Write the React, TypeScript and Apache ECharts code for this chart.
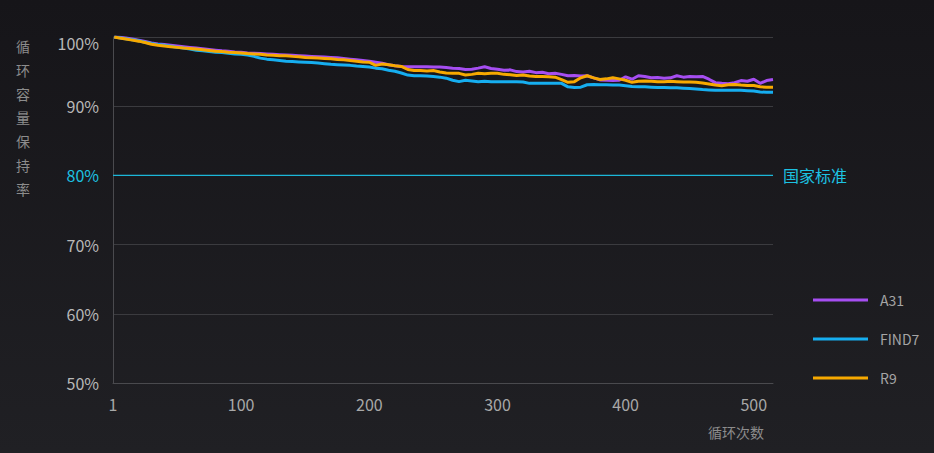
import React, { useEffect, useRef } from "react";
import * as echarts from "echarts";

const CYCLES = [1, 5, 10, 15, 20, 25, 30, 35, 40, 45, 50, 55, 60, 65, 70, 75, 80, 85, 90, 95, 100, 105, 110, 115, 120, 125, 130, 135, 140, 145, 150, 155, 160, 165, 170, 175, 180, 185, 190, 195, 200, 205, 210, 215, 220, 225, 230, 235, 240, 245, 250, 255, 260, 265, 270, 275, 280, 285, 290, 295, 300, 305, 310, 315, 320, 325, 330, 335, 340, 345, 350, 355, 360, 365, 370, 375, 380, 385, 390, 395, 400, 405, 410, 415, 420, 425, 430, 435, 440, 445, 450, 455, 460, 465, 470, 475, 480, 485, 490, 495, 500, 505, 510, 515];

const A31 = [100.0, 99.95, 99.85, 99.7, 99.55, 99.35, 99.15, 99.0, 98.9, 98.8, 98.7, 98.6, 98.5, 98.4, 98.3, 98.2, 98.1, 98.0, 97.95, 97.85, 97.8, 97.7, 97.65, 97.6, 97.55, 97.5, 97.45, 97.4, 97.35, 97.3, 97.25, 97.2, 97.15, 97.1, 97.05, 97.0, 96.9, 96.8, 96.7, 96.6, 96.5, 96.35, 96.2, 96.0, 95.85, 95.75, 95.7, 95.7, 95.7, 95.7, 95.65, 95.65, 95.6, 95.5, 95.45, 95.3, 95.35, 95.5, 95.7, 95.45, 95.35, 95.2, 95.25, 95.0, 94.95, 95.05, 94.85, 94.9, 94.7, 94.75, 94.6, 94.4, 94.45, 94.35, 94.4, 94.1, 93.8, 93.75, 93.7, 93.75, 94.25, 93.9, 94.4, 94.3, 94.1, 94.15, 94.05, 94.1, 94.4, 94.2, 94.3, 94.25, 94.3, 93.9, 93.4, 93.3, 93.25, 93.4, 93.7, 93.6, 93.9, 93.3, 93.7, 93.85];

const FIND7 = [100.0, 99.9, 99.75, 99.6, 99.45, 99.25, 99.05, 98.9, 98.8, 98.65, 98.5, 98.4, 98.25, 98.1, 98.0, 97.9, 97.8, 97.75, 97.65, 97.55, 97.5, 97.4, 97.2, 96.95, 96.8, 96.7, 96.6, 96.5, 96.45, 96.4, 96.35, 96.3, 96.25, 96.15, 96.05, 96.0, 95.95, 95.9, 95.8, 95.75, 95.65, 95.5, 95.4, 95.2, 95.05, 94.8, 94.5, 94.4, 94.4, 94.35, 94.3, 94.2, 94.05, 93.75, 93.55, 93.75, 93.65, 93.55, 93.6, 93.55, 93.55, 93.55, 93.55, 93.55, 93.5, 93.3, 93.3, 93.3, 93.3, 93.3, 93.3, 92.8, 92.7, 92.75, 93.1, 93.15, 93.1, 93.1, 93.05, 93.05, 92.95, 92.85, 92.8, 92.8, 92.75, 92.7, 92.7, 92.65, 92.65, 92.6, 92.55, 92.5, 92.4, 92.35, 92.3, 92.3, 92.3, 92.3, 92.3, 92.25, 92.2, 92.05, 92.0, 92.0];

const R9 = [100.0, 99.85, 99.7, 99.55, 99.4, 99.2, 98.95, 98.8, 98.7, 98.6, 98.5, 98.4, 98.35, 98.25, 98.15, 98.05, 97.95, 97.9, 97.8, 97.75, 97.7, 97.6, 97.55, 97.5, 97.4, 97.35, 97.3, 97.3, 97.2, 97.15, 97.05, 97.0, 96.95, 96.9, 96.85, 96.75, 96.7, 96.6, 96.5, 96.4, 96.35, 95.9, 96.1, 96.0, 95.85, 95.75, 95.3, 95.15, 95.15, 95.1, 95.15, 94.95, 94.8, 94.75, 94.75, 94.5, 94.6, 94.75, 94.7, 94.75, 94.75, 94.6, 94.55, 94.45, 94.5, 94.35, 94.3, 94.3, 94.25, 94.2, 93.85, 93.45, 93.55, 94.1, 94.4, 94.1, 93.85, 93.95, 94.1, 93.95, 93.75, 93.45, 93.6, 93.65, 93.6, 93.55, 93.55, 93.6, 93.55, 93.5, 93.5, 93.45, 93.35, 93.2, 93.05, 92.95, 93.1, 93.15, 93.05, 93.0, 93.0, 92.8, 92.75, 92.75];

const SERIES_NAMES = ["A31", "FIND7", "R9"];
const SERIES_COLORS = ["#a64ef2", "#16aef0", "#f7a900"];
const X_RANGE = [0, 515];
const Y_TICKS = [50, 60, 70, 80, 90, 100];
const STANDARD_VALUE = 80;
const STANDARD_LABEL = "国家标准";
const Y_NAME = "循环容量保持率";
const X_NAME = "循环次数";

const CYAN = "#1dc2e2";
const CYAN_LINE = "#1cb6d8";
const GRID_GRAY = "#3b3b3f";
const LABEL_GRAY = "#b8b8b8";
const FONT = "'Noto Sans CJK SC', 'Noto Sans', sans-serif";

export default function App() {
  const ref = useRef<HTMLDivElement>(null);

  useEffect(() => {
    if (!ref.current) return;
    const chart = echarts.init(ref.current, null, { renderer: "svg" });
    const values = [A31, FIND7, R9];
    const series: any[] = [
      {
        name: STANDARD_LABEL,
        type: "line",
        symbol: "none",
        showSymbol: false,
        silent: true,
        z: 2,
        lineStyle: { width: 1.3, color: CYAN_LINE, type: "solid" },
        itemStyle: { color: CYAN_LINE },
        data: X_RANGE.map((x) => [x, STANDARD_VALUE]),
        endLabel: {
          show: true,
          formatter: STANDARD_LABEL,
          color: CYAN,
          fontSize: 16,
          fontFamily: FONT,
          distance: 10,
        },
      },
      ...SERIES_NAMES.map((name, si) => ({
        name,
        type: "line",
        symbol: "none",
        showSymbol: false,
        lineStyle: { width: 3, color: SERIES_COLORS[si] },
        itemStyle: { color: SERIES_COLORS[si] },
        data: CYCLES.map((c, i) => [c, values[si][i]]),
        z: 3 + si,
      })),
    ];

    chart.setOption({
      animation: false,
      backgroundColor: {
        type: "linear",
        x: 0,
        y: 0,
        x2: 0,
        y2: 1,
        colorStops: [
          { offset: 0, color: "#161519" },
          { offset: 1, color: "#202024" },
        ],
      },
      textStyle: { fontFamily: FONT },
      grid: { left: 113, right: 161, top: 37, bottom: 70, containLabel: false },
      legend: {
        data: SERIES_NAMES.map((n) => ({ name: n, icon: "rect" })),
        orient: "vertical",
        left: 813,
        top: 293,
        padding: 0,
        itemWidth: 55,
        itemHeight: 3,
        itemGap: 25,
        textStyle: { color: "#a5a5a5", fontSize: 14, fontFamily: FONT, padding: [0, 0, 0, 7] },
      },
      xAxis: {
        type: "value",
        min: X_RANGE[0],
        max: X_RANGE[1],
        interval: 100,
        axisLine: { show: true, lineStyle: { color: "#4a4a4e", width: 1 } },
        axisTick: { show: false },
        splitLine: { show: false },
        axisLabel: {
          color: "#a8a8a8",
          fontSize: 16,
          margin: 13,
          showMaxLabel: false,
          formatter: (v: number) => (v === 0 ? "1" : v > 500 ? "" : String(v)),
        },
      },
      yAxis: {
        type: "value",
        min: Y_TICKS[0],
        max: Y_TICKS[Y_TICKS.length - 1],
        interval: 10,
        axisLine: { show: true, lineStyle: { color: "#4a4a4e", width: 1 } },
        axisTick: { show: false },
        splitLine: { show: true, lineStyle: { color: GRID_GRAY, width: 1 } },
        axisLabel: {
          fontSize: 16,
          margin: 14,
          formatter: (v: number) => (v === 100 ? "{top|" + v + "%}" : v + "%"),
          rich: { top: { padding: [12, 0, 0, 0], fontSize: 16, color: LABEL_GRAY, fontFamily: FONT } },
          color: (v: any) => (Number(v) === STANDARD_VALUE ? CYAN : LABEL_GRAY),
        },
      },
      graphic: [
        {
          type: "text",
          left: 16,
          top: 34,
          style: {
            text: Y_NAME.split("").join("\n"),
            fill: "#8c8c8c",
            fontSize: 14,
            lineHeight: 23.8,
            fontFamily: FONT,
          },
        },
        {
          type: "text",
          left: 708,
          top: 425,
          style: {
            text: X_NAME,
            fill: "#8c8c8c",
            fontSize: 14,
            fontFamily: FONT,
          },
        },
      ],
      series,
    });

    return () => chart.dispose();
  }, []);

  return (
    <div
      ref={ref}
      style={{ position: "fixed", left: 0, top: 0, width: 934, height: 453 }}
    />
  );
}
